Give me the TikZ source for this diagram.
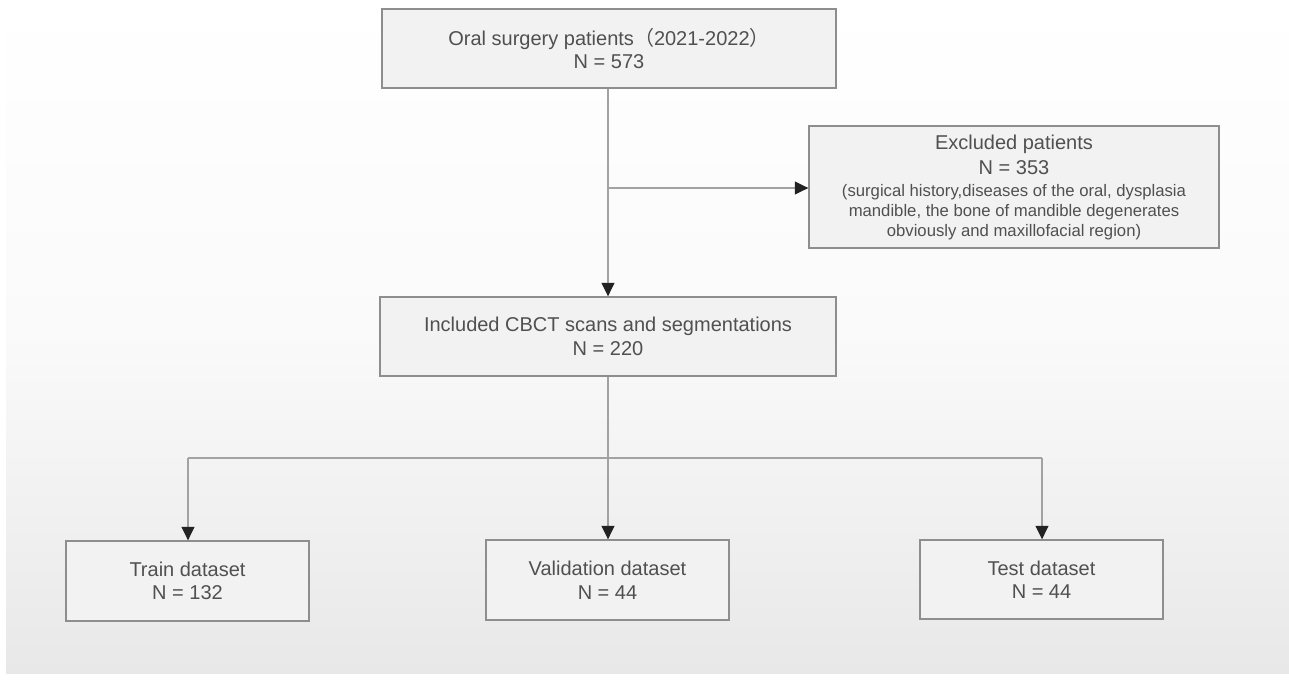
\documentclass[tikz,border=0pt]{standalone}
\usepackage{fontspec}
\setmainfont{Liberation Sans}
\newfontfamily\cjk{Noto Sans CJK SC}
\usetikzlibrary{arrows.meta,positioning}
\definecolor{txt}{HTML}{505050}
\definecolor{boxfill}{HTML}{F2F2F2}
\definecolor{boxline}{HTML}{8E8E8E}
\definecolor{conn}{HTML}{A2A2A2}
\definecolor{tip}{HTML}{222222}
\newcommand{\smallfs}{\fontsize{16.7}{20}\selectfont}
\tikzset{
  flowbox/.style={draw=boxline, line width=1.4pt, fill=boxfill, text=txt, align=center,
    inner sep=0pt, font=\fontsize{20}{23.5}\selectfont},
  link/.style={draw=conn, line width=1.1pt},
  arrowlink/.style={link, -{Triangle[length=13.5pt,width=13pt,fill=tip,color=tip]}},
}
\begin{document}
\begin{tikzpicture}[x=1pt,y=-1pt]
\useasboundingbox (0,0) rectangle (1289,683);
\fill[white] (0,0) rectangle (1289,683);
\shade[top color=white, bottom color=black!9, middle color=black!2] (6,0) rectangle (1289,673);

\node[flowbox, minimum width=454pt, minimum height=79pt] (oral) at (609,48.5)
  {Oral surgery patients{\cjk （}2021-2022{\cjk ）}\\N = 573};
\node[flowbox, minimum width=410pt, minimum height=122pt, font=\fontsize{20}{20}\selectfont] (exc) at (1014,187)
  {Excluded patients\\[5pt]N = 353\\[2pt]
   \smallfs (surgical history,diseases of the oral, dysplasia\\
   \smallfs mandible, the bone of mandible degenerates\\
   \smallfs obviously and maxillofacial region)};
\node[flowbox, minimum width=456pt, minimum height=79pt] (inc) at (608,336.5)
  {Included CBCT scans and segmentations\\N = 220};
\node[flowbox, minimum width=243pt, minimum height=80pt] (train) at (187.5,581)
  {Train dataset\\N = 132};
\node[flowbox, minimum width=243pt, minimum height=80pt] (val) at (607.5,580)
  {Validation dataset\\N = 44};
\node[flowbox, minimum width=243pt, minimum height=79pt] (test) at (1041.5,579.5)
  {Test dataset\\N = 44};

\coordinate (br) at (608,188);
\coordinate (sp) at (608,458);
\coordinate (spl) at (188,458);
\coordinate (spr) at (1042,458);

\draw[arrowlink] (oral.south -| br) -- (inc.north -| br);
\draw[arrowlink] (br) -- (exc.west |- br);
\draw[link] (inc.south -| sp) -- (sp);
\draw[link] (spl) -- (spr);
\draw[arrowlink] (spl) -- (train.north -| spl);
\draw[arrowlink] (sp) -- (val.north -| sp);
\draw[arrowlink] (spr) -- (test.north -| spr);
\end{tikzpicture}
\end{document}
